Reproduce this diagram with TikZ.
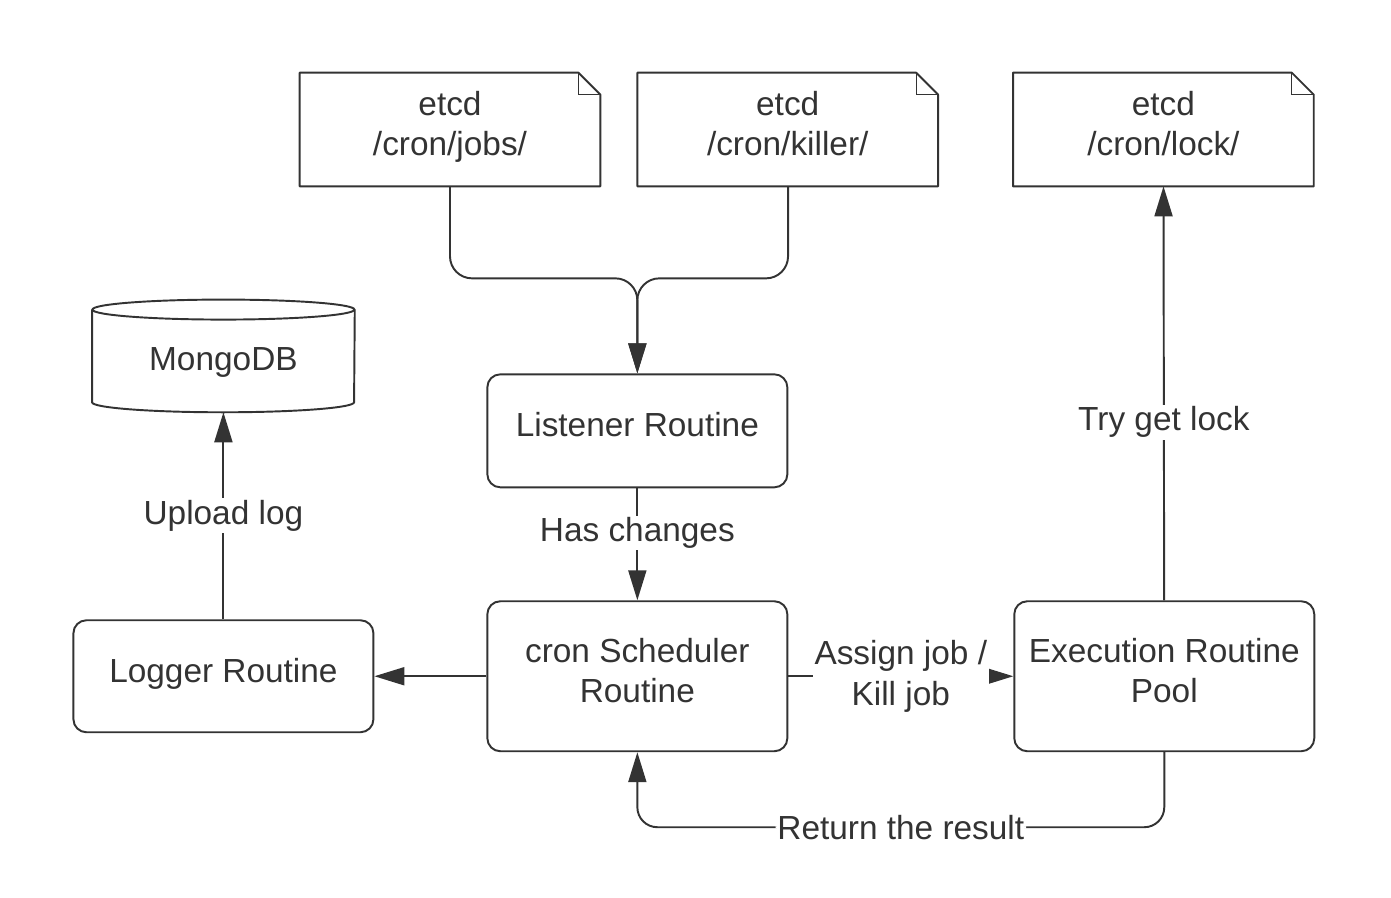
\documentclass[tikz,border=0pt]{standalone}
\usepackage{fontspec}
\setmainfont{Liberation Sans}
\usetikzlibrary{positioning,arrows.meta}
\definecolor{ink}{HTML}{333333}
\begin{document}
\begin{tikzpicture}[box/.style={draw=ink,line width=1.1pt,rounded corners=0.26cm,minimum width=6cm,minimum height=2.26cm,align=center,text depth=0.24cm},
                doc/.style={minimum width=6cm,minimum height=2.26cm,align=center,text depth=0.24cm},
                flow/.style={draw=ink,line width=1.1pt,-{Triangle[length=0.6cm,width=0.36cm]}},
                tag/.style={fill=white,inner sep=1pt,align=center},
                every node/.style={text=ink,font=\fontsize{19}{23}\selectfont}]
                \useasboundingbox (0,0) rectangle (27.82,-17.96);
                \node[doc](jobs) at (9,-2.59){etcd\\/cron/jobs/};
                \node[doc](killer)[right=0.74cm of jobs]{etcd\\/cron/killer/};
                \node[doc](lock)[right=1.5cm of killer]{etcd\\/cron/lock/};
                \node[box](listener)[below=3.74cm of killer.south west]{Listener Routine};
                \node[box,minimum height=3cm](scheduler)[below=2.24cm of listener]{cron Scheduler\\Routine};
                \node[box,minimum height=3cm](exec)[right=4.5cm of scheduler]{Execution Routine\\Pool};
                \node[box,minimum height=2.24cm](logger)[left=2.24cm of scheduler]{Logger Routine};
                \node[minimum width=5.24cm,minimum height=2.24cm,text height=0.72cm](mongo)[above=4.14cm of logger]{MongoDB};
                \coordinate[above=1.9cm of listener.north](fork);
                \coordinate[below=1.5cm of exec.south](back);
                \foreach \n in {jobs,killer,lock}{
                    \draw[ink,line width=1.1pt,line join=round] (\n.south west) -- (\n.north west) -- ([xshift=-0.44cm]\n.north east) -- ([yshift=-0.44cm]\n.north east) -- (\n.south east) -- cycle;
                    \draw[ink,line width=0.6pt] ([xshift=-0.44cm]\n.north east) |- ([yshift=-0.44cm]\n.north east);
                }
                \draw[ink,line width=1.1pt] ([yshift=-0.2cm]mongo.north west) -- ([yshift=0.2cm]mongo.south west) arc[start angle=180,end angle=360,x radius=2.62cm,y radius=0.2cm] -- ([yshift=-0.2cm]mongo.north east);
                \draw[ink,line width=1.1pt] ([yshift=-0.2cm]mongo.north) ellipse[x radius=2.62cm,y radius=0.2cm];
                \draw[flow,rounded corners=0.44cm](jobs.south) |- (fork) -- (listener.north);
                \draw[flow,rounded corners=0.44cm](killer.south east) ++(-3cm,0) |- (fork) -- (listener.north);
                \draw[flow](listener) -- node[tag,pos=0.4]{Has changes} (scheduler);
                \draw[flow](scheduler) -- (logger);
                \draw[flow](logger) -- node[tag]{Upload log} (mongo.south);
                \draw[flow](scheduler) -- node[tag]{Assign job /\\Kill job} (exec);
                \draw[flow](exec) -- node[tag,pos=0.43]{Try get lock} (lock);
                \draw[flow,rounded corners=0.4cm](exec.south) -- (back) -- node[tag]{Return the result} (scheduler.south |- back) -- (scheduler.south);
            \end{tikzpicture}
\end{document}
